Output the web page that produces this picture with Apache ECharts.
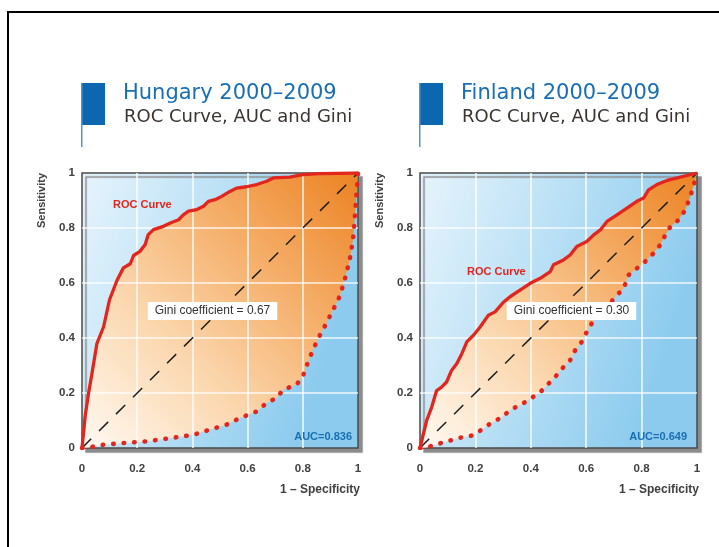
<!DOCTYPE html>
<html>
<head>
<meta charset="utf-8">
<script src="https://cdn.jsdelivr.net/npm/echarts@6/dist/echarts.min.js"></script>
<style>
html,body{margin:0;padding:0;background:#fff;}
#chart{width:719px;height:547px;}
</style>
</head>
<body>
<div id="chart"></div>
<script>
// ---- data ----
const tickValues = [0, 0.2, 0.4, 0.6, 0.8, 1];
const tickLabels = ['0', '0.2', '0.4', '0.6', '0.8', '1'];

const chartTitles = ['Hungary 2000\u20132009', 'Finland 2000\u20132009'];
const chartSubtitle = 'ROC Curve, AUC and Gini';
const giniLabels = ['Gini coefficient = 0.67', 'Gini coefficient = 0.30'];
const aucLabels = ['AUC=0.836', 'AUC=0.649'];

const hungaryROC = [
  [0,0],[0.012,0.12],[0.024,0.2],[0.036,0.27],[0.054,0.38],[0.078,0.44],[0.10,0.54],[0.127,0.61],
  [0.15,0.655],[0.175,0.67],[0.187,0.70],[0.21,0.715],[0.229,0.74],[0.24,0.776],[0.259,0.794],
  [0.295,0.806],[0.32,0.818],[0.35,0.83],[0.367,0.848],[0.386,0.861],[0.416,0.867],[0.44,0.879],
  [0.458,0.897],[0.482,0.903],[0.506,0.915],[0.536,0.933],[0.56,0.945],[0.596,0.95],[0.633,0.958],
  [0.669,0.97],[0.693,0.982],[0.753,0.985],[0.80,0.994],[0.861,0.998],[1,1]
];
const hungaryMirror = [
  [0,0],[0.024,0.002],[0.078,0.012],[0.15,0.018],[0.235,0.024],[0.32,0.036],[0.404,0.048],
  [0.464,0.067],[0.524,0.085],[0.572,0.109],[0.633,0.133],[0.669,0.164],[0.705,0.182],
  [0.729,0.212],[0.777,0.23],[0.80,0.26],[0.813,0.297],[0.837,0.358],[0.86,0.406],[0.886,0.455],
  [0.91,0.503],[0.934,0.552],[0.952,0.612],[0.97,0.685],[0.982,0.758],[0.988,0.83],[0.994,0.915],[1,1]
];
const finlandROC = [
  [0,0],[0.024,0.10],[0.042,0.148],[0.06,0.209],[0.078,0.221],[0.096,0.24],[0.114,0.282],
  [0.133,0.307],[0.151,0.343],[0.169,0.386],[0.193,0.41],[0.217,0.44],[0.247,0.483],[0.271,0.495],
  [0.301,0.53],[0.325,0.55],[0.361,0.574],[0.398,0.599],[0.434,0.617],[0.47,0.641],[0.482,0.666],
  [0.518,0.684],[0.542,0.702],[0.566,0.733],[0.602,0.751],[0.627,0.775],[0.651,0.793],[0.675,0.824],
  [0.711,0.848],[0.747,0.872],[0.783,0.897],[0.807,0.909],[0.825,0.939],[0.855,0.958],[0.892,0.973],
  [0.94,0.985],[1,1]
];
const finlandMirror = [
  [0,0],[0.024,0.002],[0.066,0.015],[0.108,0.027],[0.151,0.039],[0.187,0.045],[0.217,0.063],
  [0.253,0.088],[0.295,0.112],[0.331,0.142],[0.361,0.155],[0.398,0.179],[0.434,0.203],[0.464,0.234],
  [0.488,0.258],[0.512,0.288],[0.542,0.319],[0.56,0.355],[0.584,0.386],[0.602,0.422],[0.627,0.465],
  [0.663,0.495],[0.705,0.55],[0.735,0.58],[0.753,0.629],[0.783,0.653],[0.813,0.678],[0.843,0.708],
  [0.867,0.738],[0.886,0.775],[0.904,0.805],[0.934,0.83],[0.958,0.866],[0.976,0.915],[0.994,0.976],[1,1]
];
const diagonal = [[0,0],[1,1]];

// ---- styling ----
const RED = '#e2261d';
const BLUE_TEXT = '#1a6fb4';
const LABEL_FONT = "'Liberation Sans Narrow','Liberation Sans',Arial,sans-serif";
const TITLE_FONT = "'DejaVu Sans','Liberation Sans',sans-serif";

const grids = [
  {left: 82, top: 173, width: 276, height: 275},
  {left: 420, top: 173, width: 277, height: 275}
];

function fmtTick(v) {
  const i = tickValues.findIndex(t => Math.abs(t - v) < 1e-9);
  return i >= 0 ? tickLabels[i] : '';
}

function makeAxis(idx, isX) {
  return {
    type: 'value', gridIndex: idx, min: 0, max: 1, interval: 0.2, z: 3,
    axisLine: {show: false}, axisTick: {show: false},
    splitLine: {show: true, showMinLine: false, showMaxLine: false,
      lineStyle: {color: 'rgba(255,255,255,0.85)', width: 1.6}},
    axisLabel: {formatter: fmtTick, color: '#404040', fontWeight: 'bold',
      fontSize: 11.5, fontFamily: LABEL_FONT, margin: isX ? 15 : 7}
  };
}

function fillSeries(idx, roc, mirror) {
  return {
    type: 'custom', xAxisIndex: idx, yAxisIndex: idx, z: 1, silent: true,
    data: [[0, 0]],
    renderItem: function (params, api) {
      const pts = [];
      roc.forEach(p => pts.push(api.coord(p)));
      mirror.slice().reverse().forEach(p => pts.push(api.coord(p)));
      return {
        type: 'polygon',
        shape: {points: pts},
        style: {
          fill: new echarts.graphic.LinearGradient(0, 1, 1, 0, [
            {offset: 0, color: '#fff9f2'},
            {offset: 0.35, color: '#fbd7ae'},
            {offset: 0.7, color: '#f4aa62'},
            {offset: 1, color: '#ec8222'}
          ])
        }
      };
    }
  };
}

function lineSeries(idx, data, style, z) {
  return {
    type: 'line', xAxisIndex: idx, yAxisIndex: idx, data: data, z: z,
    symbol: 'none', silent: true, lineStyle: style, animation: false
  };
}

const series = [];
[[hungaryROC, hungaryMirror], [finlandROC, finlandMirror]].forEach((d, i) => {
  series.push(fillSeries(i, d[0], d[1]));
  series.push(lineSeries(i, diagonal, {color: '#1e1e1e', width: 1.5, type: [13, 11]}, 4));
  series.push(lineSeries(i, d[1], {color: RED, width: 4.6, type: [0.5, 10], cap: 'round'}, 5));
  series.push(lineSeries(i, d[0], {color: RED, width: 3.3, join: 'round'}, 6));
});

// ---- text / decorations ----
const graphic = [
  {type: 'rect', shape: {x: 8, y: 12, width: 730, height: 560},
   style: {fill: 'none', stroke: '#000', lineWidth: 2}, z: 10}
];
const annot = [
  {roc: [113, 205], gini: [212.5, 311], auc: [352, 437]},
  {roc: [467, 272], gini: [571.5, 311], auc: [687, 437]}
];
grids.forEach((g, i) => {
  const dx = i * 338;
  graphic.push(
    {type: 'rect', shape: {x: 81 + dx, y: 83, width: 24, height: 42}, style: {fill: '#0d67b0'}, z: 10},
    {type: 'rect', shape: {x: 81 + dx, y: 83, width: 1.5, height: 64}, style: {fill: '#4f97d2'}, z: 10},
    {type: 'text', x: 123 + dx, y: 94, z: 10, style: {text: chartTitles[i], fill: BLUE_TEXT,
      font: "21px " + TITLE_FONT, verticalAlign: 'middle', align: 'left'}},
    {type: 'text', x: 124 + dx, y: 117.5, z: 10, style: {text: chartSubtitle, fill: '#3a3431',
      font: "18px " + TITLE_FONT, verticalAlign: 'middle', align: 'left'}},
    {type: 'text', x: g.left + g.width + 2, y: 490, z: 10, style: {text: '1 \u2013 Specificity', fill: '#404040',
      font: "bold 12px " + LABEL_FONT, verticalAlign: 'middle', align: 'right'}},
    {type: 'text', x: g.left - 40, y: g.top, rotation: Math.PI / 2, z: 10, style: {text: 'Sensitivity', fill: '#404040',
      font: "bold 11px " + LABEL_FONT, verticalAlign: 'middle', align: 'right'}},
    {type: 'text', x: annot[i].roc[0], y: annot[i].roc[1], z: 10, style: {text: 'ROC Curve', fill: RED,
      font: "bold 11px " + LABEL_FONT, verticalAlign: 'middle', align: 'left'}},
    {type: 'text', x: annot[i].gini[0], y: annot[i].gini[1], z: 10, style: {text: giniLabels[i], fill: '#333',
      font: "12px " + LABEL_FONT, verticalAlign: 'middle', align: 'center',
      backgroundColor: '#fff', padding: [3, 7, 3, 7]}},
    {type: 'text', x: annot[i].auc[0], y: annot[i].auc[1], z: 10, style: {text: aucLabels[i], fill: BLUE_TEXT,
      font: "bold 11px " + LABEL_FONT, verticalAlign: 'middle', align: 'right'}}
  );
});

const chart = echarts.init(document.getElementById('chart'), null, {renderer: 'canvas'});
chart.setOption({
  animation: false,
  backgroundColor: '#fff',
  grid: grids.map(g => Object.assign({}, g, {
    show: true, borderColor: '#4a4a4a', borderWidth: 1.5,
    backgroundColor: new echarts.graphic.LinearGradient(0, 0, 1, 0.35, [
      {offset: 0, color: '#e6f4fc'},
      {offset: 1, color: '#8ccbee'}
    ]),
    shadowColor: '#8c8c8c', shadowBlur: 1, shadowOffsetX: 4, shadowOffsetY: 4
  })),
  xAxis: [makeAxis(0, true), makeAxis(1, true)],
  yAxis: [makeAxis(0, false), makeAxis(1, false)],
  series: series,
  graphic: graphic
});
</script>
</body>
</html>
